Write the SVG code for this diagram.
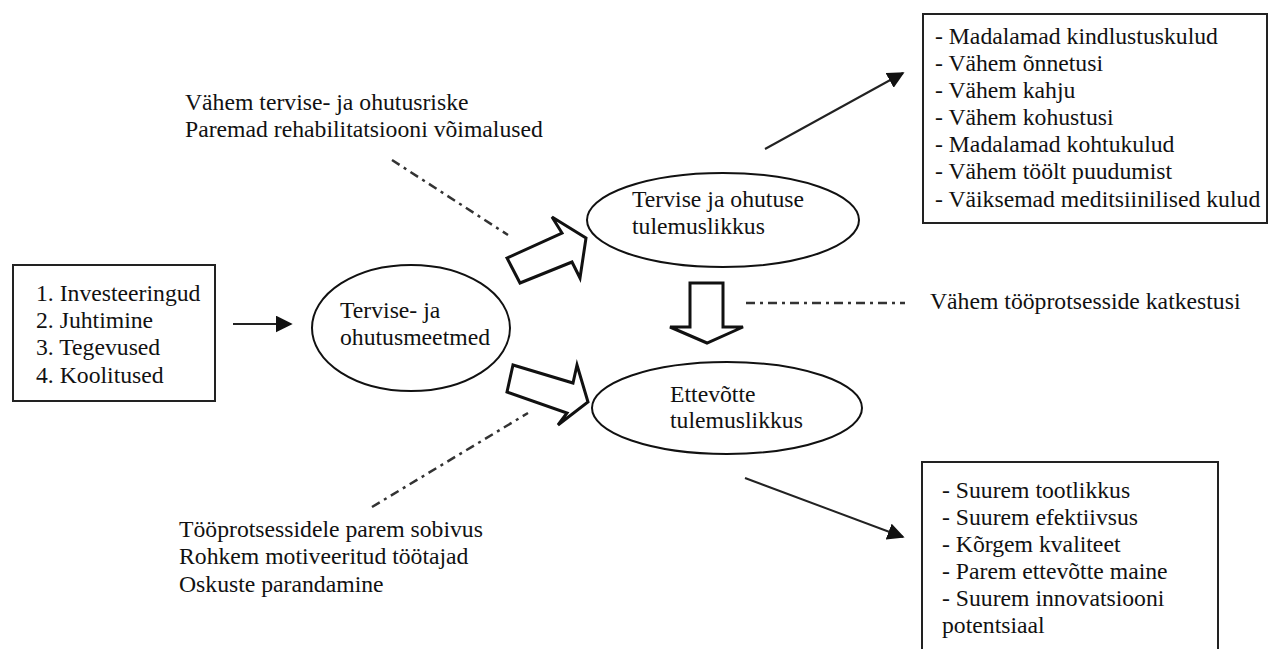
<svg xmlns="http://www.w3.org/2000/svg" width="1271" height="649" viewBox="0 0 1271 649">
<style>
text{font-family:"Liberation Serif","Times New Roman",serif;font-size:23.7px;fill:#111}
.box{fill:#fff;stroke:#222;stroke-width:2}
.ell{fill:#fff;stroke:#111;stroke-width:2}
.blk{fill:#fff;stroke:#111;stroke-width:3;stroke-linejoin:miter}
.ln{stroke:#222;stroke-width:2;fill:none}
.dd{stroke:#333;stroke-width:2.5;fill:none;stroke-dasharray:9 5 3 5}
</style>
<defs>
<marker id="ah2" viewBox="0 0 10 10" refX="9" refY="5" markerWidth="8.5" markerHeight="8.5" orient="auto">
<path d="M0,0 L10,5 L0,10 z" fill="#111"/>
</marker>
</defs>

<g id="connectors">
<line class="ln" x1="233" y1="324" x2="291" y2="324" marker-end="url(#ah2)"/>
<line class="ln" x1="765" y1="149" x2="903" y2="73" marker-end="url(#ah2)"/>
<line class="ln" x1="745" y1="478" x2="903" y2="537" marker-end="url(#ah2)"/>
<polygon class="blk" points="507,258 562,233 552,217 586,238 580,278 572,262 520,283"/>
<polygon class="blk" points="513,365 573,383 577,365 588,402 558,425 567,413 507,392"/>
<polygon class="blk" points="690,283 723,283 723,327 743,327 707,343 670,327 690,327"/>
<line class="dd" x1="392" y1="160" x2="508" y2="235"/>
<line class="dd" x1="372" y1="507" x2="528" y2="413"/>
<line class="dd" x1="746" y1="303" x2="905" y2="303"/>
</g>

<g id="inputs">
<rect class="box" x="13" y="265" width="202" height="136"/>
<text x="36" y="301">1. Investeeringud</text>
<text x="36" y="328">2. Juhtimine</text>
<text x="36" y="355">3. Tegevused</text>
<text x="36" y="383">4. Koolitused</text>
</g>

<g id="meetmed">
<ellipse class="ell" cx="411" cy="328" rx="99" ry="63"/>
<text x="340" y="318">Tervise- ja</text>
<text x="340" y="345">ohutusmeetmed</text>
</g>

<g id="tervise-tulemuslikkus">
<ellipse class="ell" cx="723" cy="220" rx="136" ry="47"/>
<text x="632" y="207">Tervise ja ohutuse</text>
<text x="632" y="234">tulemuslikkus</text>
</g>

<g id="ettevotte-tulemuslikkus">
<ellipse class="ell" cx="727" cy="408" rx="135" ry="46"/>
<text x="670" y="402">Ettevõtte</text>
<text x="670" y="428">tulemuslikkus</text>
</g>

<g id="kulud">
<rect class="box" x="923" y="14" width="344" height="209"/>
<text x="935" y="44">- Madalamad kindlustuskulud</text>
<text x="935" y="71">- Vähem õnnetusi</text>
<text x="935" y="98">- Vähem kahju</text>
<text x="935" y="125">- Vähem kohustusi</text>
<text x="935" y="152">- Madalamad kohtukulud</text>
<text x="935" y="179">- Vähem töölt puudumist</text>
<text x="935" y="207">- Väiksemad meditsiinilised kulud</text>
</g>

<g id="ettevotte-tulemused">
<path class="box" d="M922,652 V462 H1218 V652"/>
<text x="942" y="498">- Suurem tootlikkus</text>
<text x="942" y="525">- Suurem efektiivsus</text>
<text x="942" y="552">- Kõrgem kvaliteet</text>
<text x="942" y="579">- Parem ettevõtte maine</text>
<text x="942" y="606">- Suurem innovatsiooni</text>
<text x="942" y="633">potentsiaal</text>
</g>

<g id="label-top">
<text x="185" y="110">Vähem tervise- ja ohutusriske</text>
<text x="185" y="137">Paremad rehabilitatsiooni võimalused</text>
</g>

<g id="label-mid">
<text x="930" y="309">Vähem tööprotsesside katkestusi</text>
</g>

<g id="label-bottom">
<text x="179" y="537">Tööprotsessidele parem sobivus</text>
<text x="179" y="564">Rohkem motiveeritud töötajad</text>
<text x="179" y="592">Oskuste parandamine</text>
</g>
</svg>
